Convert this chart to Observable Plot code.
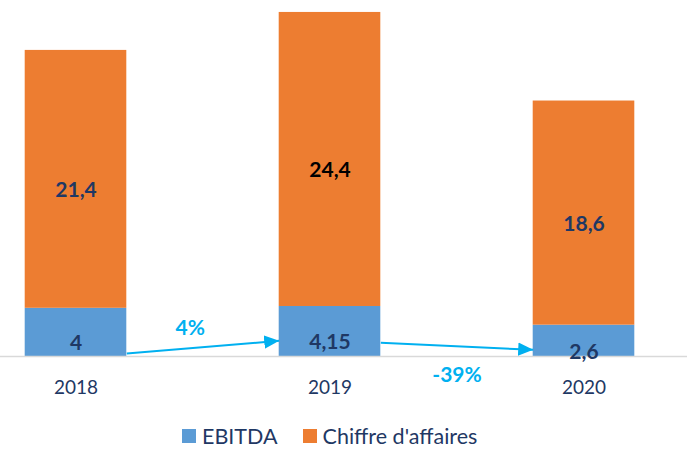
<!DOCTYPE html>
<html>
<head>
<meta charset="utf-8">
<script src="https://cdn.jsdelivr.net/npm/d3@7"></script>
<script src="https://cdn.jsdelivr.net/npm/@observablehq/plot@0.6"></script>
<style>
  html, body { margin: 0; padding: 0; background: #fff; }
  #chart { width: 687px; }
  .legend { display: flex; justify-content: flex-start; align-items: center; padding-left: 182px; padding-top: 8px; height: 26px;
    font-family: Lato, "Open Sans", sans-serif; font-size: 21.5px; color: #1F3864; }
  .legend .item { display: flex; align-items: center; }
  .legend .sw { width: 14px; height: 14px; margin-right: 6px; }
  .legend .item + .item { margin-left: 25px; }
</style>
</head>
<body>
<div id="chart"></div>
<script>
const years = [2018, 2019, 2020];
const ebitda = [4, 4.15, 2.6];
const chiffre = [21.4, 24.4, 18.6];
const ebitdaLabels = ["4", "4,15", "2,6"];
const chiffreLabels = ["21,4", "24,4", "18,6"];
const seriesNames = ["EBITDA", "Chiffre d'affaires"];
const seriesColors = ["#5B9BD5", "#ED7D31"];
const changeFrom = [2018, 2019];
const changeTo = [2019, 2020];
const changeLabels = ["4%", "-39%"];
const changeSign = [1, -1];
const arrowStartY = [0.25, 1.15];
const arrowEndY = [1.3, 0.55];

const segments = years.flatMap((yr, i) => [
  {year: yr, series: seriesNames[0], y1: 0, y2: ebitda[i], label: ebitdaLabels[i]},
  {year: yr, series: seriesNames[1], y1: ebitda[i], y2: ebitda[i] + chiffre[i], label: chiffreLabels[i]}
]);
const changes = changeFrom.map((f, i) => ({
  from: f, to: changeTo[i], label: changeLabels[i], sign: changeSign[i],
  ya: arrowStartY[i], yb: arrowEndY[i]
}));

const half = 0.2;
const navy = "#1F3864";
const cyan = "#00B0F0";

const plot = Plot.plot({
  width: 687,
  height: 415,
  marginLeft: 0, marginRight: 0, marginTop: 0, marginBottom: 0,
  style: {fontFamily: "Lato, 'Open Sans', sans-serif", background: "#fff"},
  x: {type: "linear", domain: [2018, 2020], range: [75.5, 583.5], axis: null},
  y: {domain: [0, 29.5], range: [356, 0.5], axis: null},
  color: {domain: seriesNames, range: seriesColors},
  marks: [
    Plot.rect(segments, {x1: d => d.year - half, x2: d => d.year + half, y1: "y1", y2: "y2", fill: "series"}),
    Plot.ruleY([0], {stroke: "#D9D9D9", strokeWidth: 1.5}),
    Plot.text(years, {x: d => d, y: () => 0, dy: 31, text: d => String(d), fontSize: 19, fill: navy}),
    Plot.text(segments, {
      x: "year", y: d => (d.y1 + d.y2) / 2, text: "label", dy: 11,
      fill: d => (d.year === 2019 && d.series === seriesNames[1]) ? "#000" : navy,
      fontSize: 21, fontWeight: "bold"
    }),
    Plot.link(changes, {
      x1: d => d.from + half, x2: d => d.to - half, y1: "ya", y2: "yb",
      stroke: cyan, strokeWidth: 2, markerEnd: "arrow"
    }),
    Plot.text(changes, {
      x: d => (d.from + d.to) / 2 - (d.sign > 0 ? 0.05 : 0),
      y: d => (d.ya + d.yb) / 2 + (d.sign > 0 ? 1.55 : -2.4),
      text: "label", fill: cyan, fontSize: 21, fontWeight: "bold"
    })
  ]
});

plot.querySelectorAll("marker").forEach(m => {
  m.setAttribute("viewBox", "-10 -5 10 10");
  m.setAttribute("markerWidth", "7.5");
  m.setAttribute("markerHeight", "7.5");
  m.setAttribute("fill", cyan);
  m.setAttribute("stroke", "none");
  const p = m.querySelector("path");
  if (p) p.setAttribute("d", "M-10,-4.4L0,0L-10,4.4Z");
});

document.getElementById("chart").appendChild(plot);

const legend = document.createElement("div");
legend.className = "legend";
seriesNames.forEach((s, i) => {
  const item = document.createElement("div");
  item.className = "item";
  const sw = document.createElement("span");
  sw.className = "sw";
  sw.style.background = seriesColors[i];
  const t = document.createElement("span");
  t.textContent = s;
  item.appendChild(sw); item.appendChild(t);
  legend.appendChild(item);
});
document.getElementById("chart").appendChild(legend);
</script>
</body>
</html>
